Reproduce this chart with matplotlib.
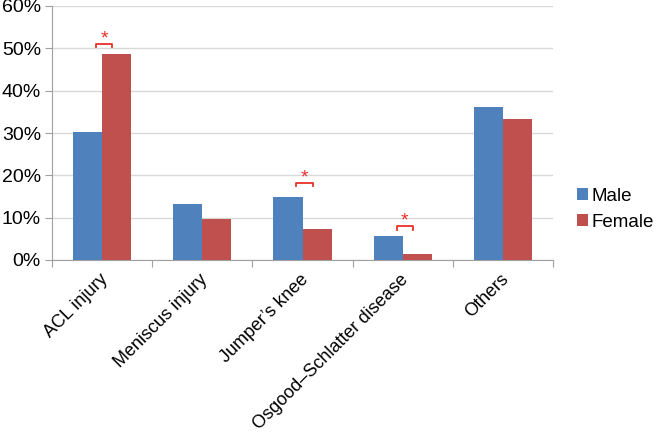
import matplotlib
matplotlib.use("Agg")
import matplotlib.pyplot as plt
from matplotlib.ticker import PercentFormatter
import numpy as np

categories = ["ACL injury", "Meniscus injury", "Jumper\u2019s knee", "Osgood\u2013Schlatter disease", "Others"]
male = [30.3, 13.3, 14.9, 5.7, 36.2]
female = [48.7, 9.7, 7.3, 1.3, 33.3]

# significance markers: category index and bracket height (%)
sig_index = [0, 2, 3]
sig_height = [51.0, 18.2, 8.0]

plt.rcParams["font.family"] = ["Liberation Sans", "DejaVu Sans"]

fig = plt.figure(figsize=(6.56, 4.32), dpi=100)
ax = fig.add_axes([52 / 656, 172 / 432, 501 / 656, 254 / 432])

x = np.arange(len(categories))
w = 0.29
ax.bar(x - w / 2, male, w, color="#4F81BD", label="Male", zorder=3)
ax.bar(x + w / 2, female, w, color="#C0504D", label="Female", zorder=3)

for i, h in zip(sig_index, sig_height):
    xl, xr = i - 0.06, i + 0.1
    ax.plot([xl, xl, xr, xr], [h - 0.8, h, h, h - 0.8], color="#E8302A", lw=1.3, zorder=4)
    ax.text((xl + xr) / 2, h - 0.8, "*", color="#E8302A", fontsize=14, ha="center", va="bottom")

ax.set_xlim(-0.5, len(categories) - 0.5)
ax.set_ylim(0, 60)
ax.set_yticks(np.arange(0, 61, 10))
ax.yaxis.set_major_formatter(PercentFormatter(decimals=0))
ax.grid(axis="y", color="#D9D9D9", lw=1, zorder=0)

ax.set_xticks(np.arange(-0.5, len(categories), 1))
ax.set_xticklabels([])
ax.set_xticks(x - 0.03, minor=True)
ax.set_xticklabels(categories, minor=True, rotation=45, ha="right", va="top",
                   rotation_mode="anchor", fontsize=13)
ax.tick_params(axis="x", which="minor", length=0, pad=8)
ax.tick_params(axis="x", which="major", length=5, color="#A0A0A0")
ax.tick_params(axis="y", length=5, color="#A0A0A0", labelsize=14, pad=3)

for s in ["top", "right"]:
    ax.spines[s].set_visible(False)
for s in ["left", "bottom"]:
    ax.spines[s].set_color("#A0A0A0")

ax.legend(loc="center left", bbox_to_anchor=(1.022, 0.2), frameon=False, fontsize=13.5,
          handlelength=0.6, handleheight=0.6, handletextpad=0.15, labelspacing=0.5,
          borderaxespad=0.3)

fig.savefig("out.png", dpi=100)
